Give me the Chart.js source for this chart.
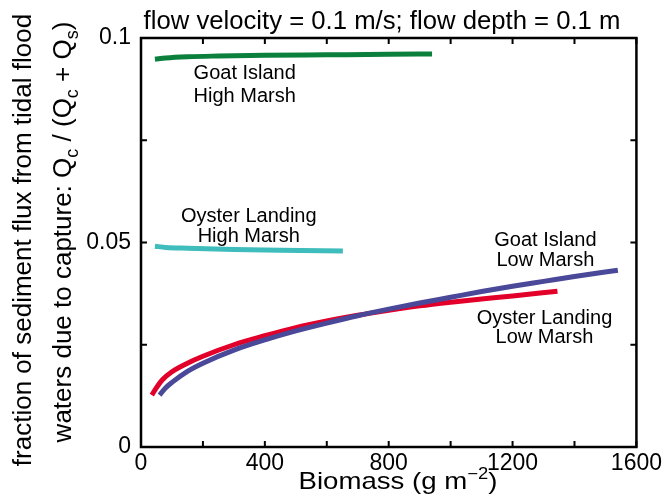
<!DOCTYPE html>
<html>
<head>
<meta charset="utf-8">
<script src="https://cdn.jsdelivr.net/npm/chart.js@4/dist/chart.umd.min.js"></script>
<style>
  html, body { margin: 0; padding: 0; background: #fff; }
</style>
</head>
<body>
<canvas id="myChart" width="665" height="504"></canvas>
<script>
const goatHighX = [45, 80, 150, 250, 400, 600, 800, 940];
const goatHighY = [0.0948, 0.0951, 0.0954, 0.0956, 0.0958, 0.0959, 0.0960, 0.0961];
const oysterHighX = [45, 80, 150, 300, 450, 652];
const oysterHighY = [0.0491, 0.0488, 0.0486, 0.0483, 0.0481, 0.0479];
const goatLowX = [60, 80, 100, 150, 200, 300, 400, 500, 600, 700, 800, 900, 1000, 1100, 1200, 1300, 1400, 1540];
const goatLowY = [0.0127, 0.0145, 0.0158, 0.0185, 0.0205, 0.0237, 0.0262, 0.0284, 0.0303, 0.0321, 0.0337, 0.0352, 0.0366, 0.0380, 0.0393, 0.0405, 0.0417, 0.0432];
const oysterLowX = [35, 50, 70, 100, 150, 200, 300, 400, 500, 600, 700, 800, 900, 1000, 1100, 1200, 1345];
const oysterLowY = [0.0127, 0.0145, 0.0165, 0.0184, 0.0205, 0.0222, 0.0250, 0.0272, 0.0292, 0.0308, 0.0322, 0.0334, 0.0345, 0.0354, 0.0362, 0.0369, 0.0381];

const xTicks = [0, 200, 400, 600, 800, 1000, 1200, 1400, 1600];
const xTickLabels = ['0', '', '400', '', '800', '', '1200', '', '1600'];
const yTicks = [0, 0.025, 0.05, 0.075, 0.1];
const yTickLabels = ['0', '', '0.05', '', '0.1'];

const chartTitle = 'flow velocity = 0.1 m/s; flow depth = 0.1 m';
// rich text parts: [text, 'sub' | 'sup' | '']
const xTitle = [['Biomass (g m', ''], ['\u22122', 'sup'], [')', '']];
const yTitle1 = [['fraction of sediment flux from tidal flood', '']];
const yTitle2 = [['waters due to capture: Q', ''], ['c', 'sub'], [' / (Q', ''], ['c', 'sub'], [' + Q', ''], ['s', 'sub'], [')', '']];

const notes = [
  { text: 'Goat Island', x: 335, y: 0.0914 },
  { text: 'High Marsh', x: 335, y: 0.0858 },
  { text: 'Oyster Landing', x: 348, y: 0.0563 },
  { text: 'High Marsh', x: 348, y: 0.0514 },
  { text: 'Goat Island', x: 1306, y: 0.0506 },
  { text: 'Low Marsh', x: 1306, y: 0.0457 },
  { text: 'Oyster Landing', x: 1303, y: 0.0315 },
  { text: 'Low Marsh', x: 1303, y: 0.0268 }
];

const FONT = "'Liberation Sans', Arial, Helvetica, sans-serif";

function pts(xs, ys) {
  return xs.map((x, i) => ({ x: x, y: ys[i] }));
}

// draws text with sub/superscripts centred on cx; sx stretches it sideways
function drawRich(ctx, parts, cx, baseY, size, sx) {
  sx = sx || 1;
  const small = Math.round(size * 0.68);
  let total = 0;
  parts.forEach(p => {
    ctx.font = (p[1] ? small : size) + 'px ' + FONT;
    total += ctx.measureText(p[0]).width;
  });
  ctx.save();
  ctx.translate(cx, baseY);
  ctx.scale(sx, 1);
  let x = -total / 2;
  ctx.textAlign = 'left';
  ctx.textBaseline = 'alphabetic';
  parts.forEach(p => {
    ctx.font = (p[1] ? small : size) + 'px ' + FONT;
    let dy = 0;
    if (p[1] === 'sub') dy = size * 0.25;
    if (p[1] === 'sup') dy = -size * 0.4;
    ctx.fillText(p[0], x, dy);
    x += ctx.measureText(p[0]).width;
  });
  ctx.restore();
}

const decorations = {
  id: 'decorations',
  afterDraw(chart) {
    const ctx = chart.ctx;
    const a = chart.chartArea;
    const xs = chart.scales.x;
    const ys = chart.scales.y;
    ctx.save();
    ctx.fillStyle = '#000';
    ctx.strokeStyle = '#000';

    // frame
    ctx.lineWidth = 2.5;
    ctx.strokeRect(a.left, a.top, a.right - a.left, a.bottom - a.top);

    // inward ticks on all sides
    ctx.lineWidth = 2;
    ctx.beginPath();
    xTicks.forEach(v => {
      const px = xs.getPixelForValue(v);
      ctx.moveTo(px, a.bottom); ctx.lineTo(px, a.bottom - 6);
      ctx.moveTo(px, a.top); ctx.lineTo(px, a.top + 6);
    });
    yTicks.forEach(v => {
      const py = ys.getPixelForValue(v);
      ctx.moveTo(a.left, py); ctx.lineTo(a.left + 6, py);
      ctx.moveTo(a.right, py); ctx.lineTo(a.right - 6, py);
    });
    ctx.stroke();

    // title
    ctx.font = '25.7px ' + FONT;
    ctx.textAlign = 'center';
    ctx.textBaseline = 'alphabetic';
    ctx.fillText(chartTitle, 382, 29);

    // x title
    drawRich(ctx, xTitle, 398, 489, 24, 1.15);

    // y title, two rotated lines
    ctx.save();
    ctx.translate(22, 240);
    ctx.rotate(-Math.PI / 2);
    drawRich(ctx, yTitle1, 0, 9, 26);
    ctx.restore();
    ctx.save();
    ctx.translate(62, 232);
    ctx.rotate(-Math.PI / 2);
    drawRich(ctx, yTitle2, 0, 9, 26);
    ctx.restore();

    // curve labels
    ctx.font = '20px ' + FONT;
    ctx.textAlign = 'center';
    ctx.textBaseline = 'middle';
    notes.forEach(n => {
      ctx.fillText(n.text, xs.getPixelForValue(n.x), ys.getPixelForValue(n.y));
    });
    ctx.restore();
  }
};

const lineStyle = {
  borderWidth: 5,
  pointRadius: 0,
  fill: false,
  cubicInterpolationMode: 'monotone',
  borderCapStyle: 'butt'
};

new Chart(document.getElementById('myChart'), {
  type: 'line',
  data: {
    datasets: [
      Object.assign({ label: 'Goat Island High Marsh', data: pts(goatHighX, goatHighY), borderColor: '#0b7f3c' }, lineStyle),
      Object.assign({ label: 'Oyster Landing High Marsh', data: pts(oysterHighX, oysterHighY), borderColor: '#3fbcbc' }, lineStyle),
      Object.assign({ label: 'Goat Island Low Marsh', data: pts(goatLowX, goatLowY), borderColor: '#4a4898' }, lineStyle),
      Object.assign({ label: 'Oyster Landing Low Marsh', data: pts(oysterLowX, oysterLowY), borderColor: '#e2002b' }, lineStyle)
    ]
  },
  options: {
    responsive: false,
    animation: false,
    layout: { padding: { top: 38, right: 28, left: 0, bottom: 0 } },
    plugins: { legend: { display: false }, tooltip: { enabled: false } },
    scales: {
      x: {
        type: 'linear',
        min: 0,
        max: 1600,
        afterBuildTicks: s => { s.ticks = xTicks.map(v => ({ value: v })); },
        afterFit: s => { s.height = 57; },
        grid: { display: false, drawTicks: false },
        border: { display: false },
        ticks: {
          autoSkip: false,
          maxRotation: 0,
          padding: 3,
          color: '#000',
          font: { size: 23, family: FONT },
          callback: (v, i) => xTickLabels[i]
        }
      },
      y: {
        min: 0,
        max: 0.1,
        afterBuildTicks: s => { s.ticks = yTicks.map(v => ({ value: v })); },
        afterFit: s => { s.width = 141; },
        grid: { display: false, drawTicks: false },
        border: { display: false },
        ticks: {
          autoSkip: false,
          padding: 10,
          color: '#000',
          font: { size: 23, family: FONT },
          callback: (v, i) => yTickLabels[i]
        }
      }
    }
  },
  plugins: [decorations]
});
</script>
</body>
</html>
